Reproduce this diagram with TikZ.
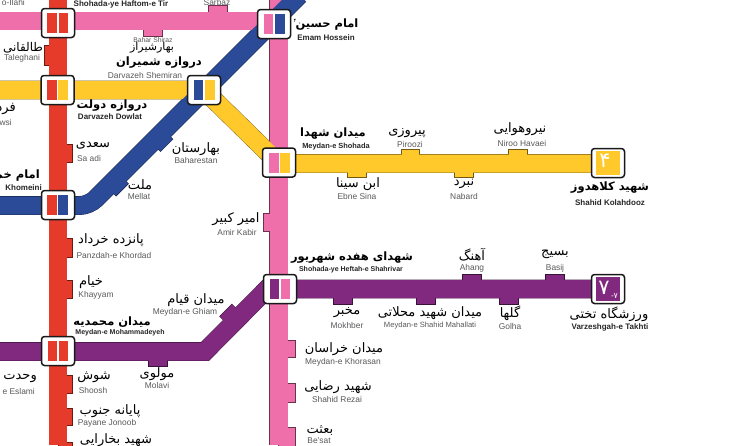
\documentclass[tikz,border=0pt]{standalone}
\usepackage{fontspec}
\setmainfont{Liberation Sans}
\newfontfamily\arabicfont[Script=Arabic]{DejaVu Sans}
\TeXXeTstate=1
\definecolor{cred}{HTML}{E63B2A}
\definecolor{cpink}{HTML}{EE6FA9}
\definecolor{cyel}{HTML}{FFC92B}
\definecolor{cblue}{HTML}{2B4A97}
\definecolor{cpur}{HTML}{80297E}
\definecolor{grayt}{HTML}{58595B}
\newcommand{\fa}[1]{{\arabicfont\beginR #1\endR}}
\newcommand{\stub}[5]{% x1 y1 x2 y2 colour
  \draw[draw=black!55!#5, fill=#5, line width=.5pt] (#1,#2) rectangle (#3,#4);}
\tikzset{
  x=1pt, y=-1pt,
  fa/.style={inner sep=0pt, text=black, font=\fontsize{13}{13}\selectfont},
  fab/.style={inner sep=0pt, text=black, font=\fontsize{11.5}{12}\selectfont\bfseries},
  en/.style={inner sep=0pt, text=grayt, font=\fontsize{8.4}{9}\selectfont},
  ens/.style={inner sep=0pt, text=grayt, font=\fontsize{6.8}{7}\selectfont},
  enb/.style={inner sep=0pt, text=black!85, font=\fontsize{8}{9}\selectfont\bfseries},
  enbs/.style={inner sep=0pt, text=black!85, font=\fontsize{7}{8}\selectfont\bfseries},
  casing/.style={line width=18.8pt, draw=black!55!#1, line join=miter},
  core/.style={line width=18pt, draw=#1, line join=miter},
  station/.style={draw=black!90, line width=1.5pt, fill=white, rounded corners=3pt, minimum width=33pt, minimum height=29pt, inner sep=0pt},
  half/.style={fill=#1, draw=none, minimum width=9.6pt, minimum height=20pt, inner sep=0pt},
  termin/.style={fill=#1, draw=none, minimum width=24pt, minimum height=24pt, inner sep=0pt},
  digit/.style={inner sep=0pt, text=white},
}
\begin{document}
\begin{tikzpicture}
\clip (0,0) rectangle (729,445);
\fill[white] (0,0) rectangle (729,445);

% coordinates
\coordinate (pt) at (278.5,0);
\coordinate (pb) at (278.5,445);
\coordinate (hl) at (0,21);
\coordinate (hr) at (274,21);
\coordinate (rt) at (58,0);
\coordinate (rb) at (58,445);
\coordinate (yl) at (0,90);
\coordinate (ya) at (204,90);
\coordinate (yb) at (279,163.5);
\coordinate (yc) at (608,163.5);
\coordinate (bl) at (0,205.5);
\coordinate (bk) at (89,205.5);
\coordinate (bt) at (299.5,-5);
\coordinate (ul) at (0,351.5);
\coordinate (uk) at (205,351.5);
\coordinate (um) at (267,289);
\coordinate (ur) at (608,289);

% casings
\draw[casing=cred] (rt)--(rb);
\draw[casing=cpink] (pt)--(pb);
\draw[casing=cpink] (hl)--(hr);
\draw[casing=cyel] (yl)--(ya)--(yb)--(yc);
\draw[casing=cblue,rounded corners=9pt] (bl)--(bk)--(bt);
\draw[casing=cpur] (ul)--(uk)--(um)--(ur);

% stubs : pink top
\stub{208}{5}{227}{21}{cpink}
\stub{143}{21}{162}{36}{cpink}
% red
\stub{44}{45}{58}{65}{cred}
\stub{58}{144}{72}{162}{cred}
\stub{58}{238}{72}{257}{cred}
\stub{58}{280}{72}{298}{cred}
\stub{58}{375}{72}{393}{cred}
\stub{58}{408}{72}{425}{cred}
\stub{58}{442}{72}{460}{cred}
% blue diagonal stubs
\draw[line width=18pt, draw=black!55!cblue] (157.7,136.3)--(166.9,145.5);
\draw[line width=17pt, draw=cblue] (157.7,136.3)--(166.5,145.1);
\draw[line width=18pt, draw=black!55!cblue] (113,180.7)--(122.4,190.1);
\draw[line width=17pt, draw=cblue] (113,180.7)--(122,189.7);
% yellow
\stub{401}{149}{419}{163}{cyel}
\stub{508}{149}{527}{163}{cyel}
\stub{454}{163}{473}{177}{cyel}
\stub{347}{163}{366}{177}{cyel}
% pink right side
\stub{263}{213}{278}{231}{cpink}
\stub{278}{340}{295}{357}{cpink}
\stub{278}{383}{295}{402}{cpink}
\stub{278}{427}{295}{460}{cpink}
% purple
\stub{148}{351}{167}{366}{cpur}
\draw[line width=18pt, draw=black!55!cpur] (236,320.5)--(225.5,310);
\draw[line width=17pt, draw=cpur] (236,320.5)--(226,310.5);
\stub{462}{274}{481}{289}{cpur}
\stub{545}{274}{564}{289}{cpur}
\stub{333}{289}{352}{304}{cpur}
\stub{416}{289}{435}{304}{cpur}
\stub{499}{289}{518}{304}{cpur}

% cores
\draw[core=cred] (rt)--(rb);
\draw[core=cpink] (pt)--(pb);
\draw[core=cpink] (hl)--(hr);
\draw[core=cyel] (yl)--(ya)--(yb)--(yc);
\draw[core=cblue,rounded corners=9pt] (bl)--(bk)--(bt);
\draw[core=cpur] (ul)--(uk)--(um)--(ur);

% stations
\node[station] (s1) at (58,23) {};
\node[half=cred] (s1a) at (52,23) {};
\node[half=cred] (s1b) at (63.5,23) {};
\node[station] (s2) at (57.5,90) {};
\node[half=cred] (s2a) at (52,90) {};
\node[half=cyel] (s2b) at (63,90) {};
\node[station] (s3) at (204,90) {};
\node[half=cblue] (s3a) at (198.5,90) {};
\node[half=cyel] (s3b) at (210,90) {};
\node[station] (s4) at (274,24) {};
\node[half=cpink] (s4a) at (268.5,24) {};
\node[half=cblue] (s4b) at (280,24) {};
\node[station] (s5) at (279,162.5) {};
\node[half=cpink] (s5a) at (274,162.5) {};
\node[half=cyel] (s5b) at (285,162.5) {};
\node[station] (s6) at (58,205) {};
\node[half=cred] (s6a) at (52,205) {};
\node[half=cblue] (s6b) at (63,205) {};
\node[station] (s7) at (58,351) {};
\node[half=cred] (s7a) at (52.5,351) {};
\node[half=cred] (s7b) at (63.5,351) {};
\node[station] (s8) at (280,289) {};
\node[half=cpur] (s8a) at (274.5,289) {};
\node[half=cpink] (s8b) at (285.5,289) {};
\node[station] (s9) at (608,163) {};
\node[termin=cyel] (s9a) at (608,163) {};
\node[digit, font=\fontsize{21}{21}\selectfont] (s9d) at (605,161) {\arabicfont ۴};
\node[station] (s10) at (608,289) {};
\node[termin=cpur] (s10a) at (608,289) {};
\node[digit, font=\fontsize{21}{21}\selectfont] (s10d) at (604,287.5) {\arabicfont ۷};
\node[digit, font=\fontsize{8}{8}\selectfont] (s10e) at (614.5,295.5) {-\arabicfont ۷};

% labels
\node[en,anchor=east] (a1) at (25,2) {o-Ilahi};
\node[enb] (a2) at (121,4) {Shohada-ye Haftom-e Tir};
\node[en] (a3) at (217,2) {Sarbaz};
\node[fab] (a4) at (327,25) {\fa{امام حسین}};
\node[digit,text=black,font=\fontsize{5}{5}\selectfont] (a4b) at (295,21) {\arabicfont ۴};
\node[enb] (a5) at (326,38) {Emam Hossein};
\node[ens] (a6) at (153,40) {Bahar Shiraz};
\node[fa,font=\fontsize{11}{11}\selectfont] (a7) at (152,48) {\fa{بهارشیراز}};
\node[fa,font=\fontsize{12}{12}\selectfont] (a8) at (23,48) {\fa{طالقانی}};
\node[en] (a9) at (22,58.5) {Taleghani};
\node[fab] (a10) at (159,63) {\fa{دروازه شمیران}};
\node[en] (a11) at (145,75.5) {Darvazeh Shemiran};
\node[fab] (a12) at (112,106) {\fa{دروازه دولت}};
\node[enb] (a13) at (110,117) {Darvazeh Dowlat};
\node[fa,anchor=east] (a14) at (16,109) {\fa{فردوسی}};
\node[en,anchor=east] (a15) at (12,122.5) {Ferdowsi};
\node[fa] (a16) at (93,146) {\fa{سعدی}};
\node[en] (a17) at (89,158.5) {Sa adi};
\node[fa] (a18) at (196,149) {\fa{بهارستان}};
\node[en] (a19) at (196,160.5) {Baharestan};
\node[fa] (a20) at (140,184.5) {\fa{ملت}};
\node[en] (a21) at (139,196) {Mellat};
\node[fab,anchor=east] (a22) at (40,176) {\fa{امام خمینی}};
\node[enb,anchor=east] (a23) at (42,188) {Khomeini};
\node[fab] (a24) at (333,134) {\fa{میدان شهدا}};
\node[enb,font=\fontsize{7.4}{8}\selectfont\bfseries] (a25) at (336,147) {Meydan-e Shohada};
\node[fa] (a26) at (407,133) {\fa{پیروزی}};
\node[en] (a27) at (410,144) {Piroozi};
\node[fa] (a28) at (520,129) {\fa{نیروهوایی}};
\node[en] (a29) at (522,143) {Niroo Havaei};
\node[fa] (a30) at (358,184) {\fa{ابن سینا}};
\node[en] (a31) at (357,196) {Ebne Sina};
\node[fa] (a32) at (464,184) {\fa{نبرد}};
\node[en] (a33) at (464,196.5) {Nabard};
\node[fab] (a34) at (610,188) {\fa{شهید کلاهدوز}};
\node[enb] (a35) at (610,203) {Shahid Kolahdooz};
\node[fa] (a36) at (236,219) {\fa{امیر کبیر}};
\node[en] (a37) at (237,232) {Amir Kabir};
\node[fa] (a38) at (111,240) {\fa{پانزده خرداد}};
\node[en] (a39) at (114,255) {Panzdah-e Khordad};
\node[fa] (a40) at (91,282) {\fa{خیام}};
\node[en] (a41) at (96,295) {Khayyam};
\node[fab] (a42) at (112,322) {\fa{میدان محمدیه}};
\node[enbs] (a43) at (120,333) {Meydan-e Mohammadeyeh};
\node[fa] (a44) at (196,300) {\fa{میدان قیام}};
\node[en] (a45) at (185,312) {Meydan-e Ghiam};
\node[fab] (a46) at (352,258) {\fa{شهدای هفده شهریور}};
\node[enbs] (a47) at (351,270) {Shohada-ye Heftah-e Shahrivar};
\node[fa] (a48) at (472,255) {\fa{آهنگ}};
\node[en] (a49) at (472,268) {Ahang};
\node[fa] (a50) at (555,254) {\fa{بسیج}};
\node[en] (a51) at (555,268) {Basij};
\node[fa] (a52) at (347,313) {\fa{مخبر}};
\node[en] (a53) at (347,325.5) {Mokhber};
\node[fa] (a54) at (430,313) {\fa{میدان شهید محلاتی}};
\node[en,font=\fontsize{7.6}{8}\selectfont] (a55) at (430,326) {Meydan-e Shahid Mahallati};
\node[fa] (a56) at (510,313) {\fa{گلها}};
\node[en] (a57) at (510,326) {Golha};
\node[fa] (a58) at (609,314) {\fa{ورزشگاه تختی}};
\node[enb] (a59) at (610,327) {Varzeshgah-e Takhti};
\node[fa,anchor=east] (a60) at (37,376) {\fa{وحدت اسلامی}};
\node[en,anchor=east] (a61) at (35,391) {e Eslami};
\node[fa] (a62) at (157,374) {\fa{مولوی}};
\node[en] (a63) at (157,385.5) {Molavi};
\node[fa] (a64) at (94,377) {\fa{شوش}};
\node[en] (a65) at (93,390) {Shoosh};
\node[fa] (a66) at (110,411) {\fa{پایانه جنوب}};
\node[en] (a67) at (107,423) {Payane Jonoob};
\node[fa] (a68) at (116,440) {\fa{شهید بخارایی}};
\node[fa] (a69) at (344,349) {\fa{میدان خراسان}};
\node[en] (a70) at (343,362) {Meydan-e Khorasan};
\node[fa] (a71) at (338,387) {\fa{شهید رضایی}};
\node[en] (a72) at (337,399) {Shahid Rezai};
\node[fa] (a73) at (320,430) {\fa{بعثت}};
\node[en] (a74) at (319,441) {Be'sat};
\end{tikzpicture}
\end{document}
